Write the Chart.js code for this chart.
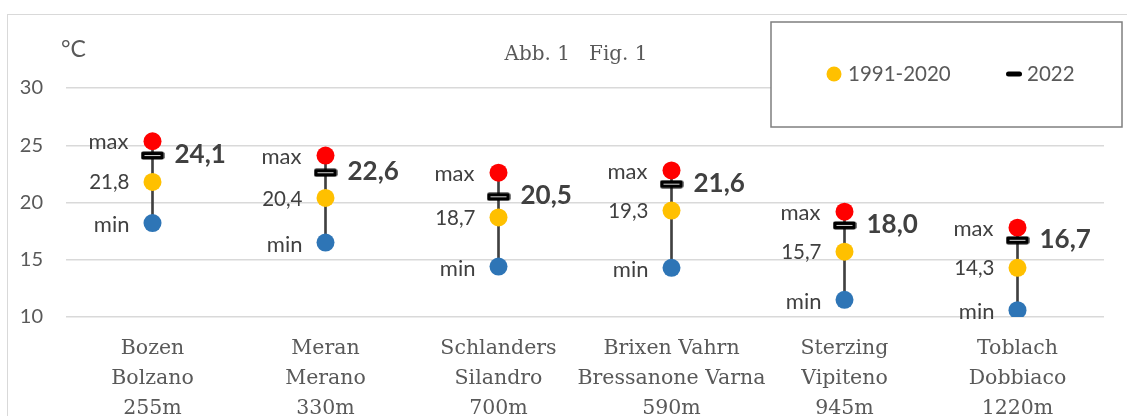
<!DOCTYPE html>
<html>
<head>
<meta charset="utf-8">
<script src="https://cdn.jsdelivr.net/npm/chart.js@4"></script>
<style>
html,body{margin:0;padding:0;background:#fff;}
#wrap{width:1127px;height:416px;position:relative;}
</style>
</head>
<body>
<div id="wrap"><canvas id="c" width="1127" height="416"></canvas></div>
<script>
const categories = [
  ["Bozen", "Bolzano", "255m"],
  ["Meran", "Merano", "330m"],
  ["Schlanders", "Silandro", "700m"],
  ["Brixen Vahrn", "Bressanone Varna", "590m"],
  ["Sterzing", "Vipiteno", "945m"],
  ["Toblach", "Dobbiaco", "1220m"]
];
const maxValues = [25.35, 24.1, 22.6, 22.8, 19.2, 17.8];
const minValues = [18.2, 16.5, 14.4, 14.3, 11.5, 10.6];
const mean1991_2020 = [21.8, 20.4, 18.7, 19.3, 15.7, 14.3];
const values2022 = [24.1, 22.6, 20.5, 21.6, 18.0, 16.7];
const yTicks = [10, 15, 20, 25, 30];
const legendLabels = ["1991-2020", "2022"];
const titleText = "Abb. 1   Fig. 1";
const unitText = "°C";

const fmt = v => v.toFixed(1).replace('.', ',');

// custom marker for 2022
const mark = document.createElement('canvas');
mark.width = 24; mark.height = 9;
(function(){
  const g = mark.getContext('2d');
  g.fillStyle = '#000';
  g.beginPath();
  if (g.roundRect) g.roundRect(0.5, 0.5, 23, 8, 2); else g.rect(0.5,0.5,23,8);
  g.fill();
  g.strokeStyle = '#d8d8d8';
  g.lineWidth = 1;
  g.beginPath();
  g.moveTo(4, 4.5); g.lineTo(20, 4.5);
  g.stroke();
})();

const decor = {
  id: 'decor',
  beforeDraw(chart) {
    const ctx = chart.ctx;
    ctx.save();
    ctx.fillStyle = '#fff';
    ctx.fillRect(0, 0, chart.width, chart.height);
    ctx.strokeStyle = '#d9d9d9';
    ctx.lineWidth = 1;
    ctx.strokeRect(7.5, 14.5, chart.width + 20, chart.height + 20);
    ctx.restore();
  },
  afterDatasetsDraw(chart) {
    const ctx = chart.ctx;
    ctx.save();
    const mMax = chart.getDatasetMeta(1).data;
    const mMean = chart.getDatasetMeta(2).data;
    const mMin = chart.getDatasetMeta(3).data;
    const m22 = chart.getDatasetMeta(4).data;
    ctx.fillStyle = '#404040';
    ctx.textAlign = 'right';
    ctx.textBaseline = 'middle';
    ctx.font = '22px Lato';
    mMax.forEach(p => ctx.fillText('max', p.x - 24, p.y + 1));
    mMin.forEach(p => ctx.fillText('min', p.x - 23, p.y + 2));
    ctx.font = '20.5px Lato';
    mMean.forEach((p, i) => ctx.fillText(fmt(mean1991_2020[i]), p.x - 23, p.y + 1));
    ctx.font = 'bold 26px Lato';
    ctx.textAlign = 'left';
    m22.forEach((p, i) => ctx.fillText(fmt(values2022[i]), p.x + 22, p.y - 1));
    ctx.restore();
  },
  afterDraw(chart) {
    const ctx = chart.ctx;
    ctx.save();
    // title
    ctx.fillStyle = '#595959';
    ctx.font = '20px "DejaVu Serif"';
    ctx.textAlign = 'center';
    ctx.textBaseline = 'alphabetic';
    ctx.fillText(titleText, 576, 60);
    // unit
    ctx.font = '23px Lato';
    ctx.textAlign = 'left';
    ctx.textBaseline = 'middle';
    ctx.fillText(unitText, 61, 50);
    // legend box
    ctx.fillStyle = '#fff';
    ctx.fillRect(771, 22, 351, 105);
    ctx.strokeStyle = '#7f7f7f';
    ctx.lineWidth = 1.5;
    ctx.strokeRect(771, 22, 351, 105);
    ctx.fillStyle = '#FFC000';
    ctx.beginPath();
    ctx.arc(834, 74, 7.5, 0, Math.PI * 2);
    ctx.fill();
    ctx.fillStyle = '#000';
    ctx.beginPath();
    if (ctx.roundRect) ctx.roundRect(1006, 71.5, 16, 5, 2.5); else ctx.rect(1006, 71.5, 16, 5);
    ctx.fill();
    ctx.fillStyle = '#595959';
    ctx.font = '20.5px Lato';
    ctx.fillText(legendLabels[0], 848, 74);
    ctx.fillText(legendLabels[1], 1027, 74);
    ctx.restore();
  }
};

new Chart(document.getElementById('c'), {
  data: {
    labels: categories,
    datasets: [
      {
        type: 'bar',
        label: 'range',
        data: minValues.map((m, i) => [m, maxValues[i]]),
        backgroundColor: '#404040',
        barThickness: 2,
        order: 10
      },
      {
        type: 'line', label: 'max', data: maxValues, showLine: false,
        pointRadius: 9, pointBorderWidth: 0, pointBackgroundColor: '#FF0000', order: 4
      },
      {
        type: 'line', label: '1991-2020', data: mean1991_2020, showLine: false,
        pointRadius: 9, pointBorderWidth: 0, pointBackgroundColor: '#FFC000', order: 3
      },
      {
        type: 'line', label: 'min', data: minValues, showLine: false,
        pointRadius: 9, pointBorderWidth: 0, pointBackgroundColor: '#2E75B6', order: 2
      },
      {
        type: 'line', label: '2022', data: values2022, showLine: false,
        pointStyle: mark, pointRadius: 9, order: 1
      }
    ]
  },
  options: {
    responsive: false,
    animation: false,
    devicePixelRatio: 1,
    events: [],
    layout: { padding: { top: 88, right: 23, left: 0, bottom: 0 } },
    plugins: { legend: { display: false }, tooltip: { enabled: false }, title: { display: false } },
    scales: {
      x: {
        type: 'category',
        offset: true,
        grid: { display: false, drawTicks: false },
        border: { display: false },
        ticks: {
          autoSkip: false, maxRotation: 0, minRotation: 0,
          color: '#595959',
          font: { family: '"DejaVu Serif"', size: 20.5, lineHeight: 1.46 },
          padding: 17
        },
        afterFit(scale) { scale.height = 99; }
      },
      y: {
        min: 10, max: 30,
        grid: { color: '#d9d9d9', lineWidth: 1.5, drawTicks: false },
        border: { display: false },
        ticks: {
          color: '#595959',
          font: { family: 'Lato', size: 20 },
          padding: 23
        },
        afterBuildTicks(scale) { scale.ticks = yTicks.map(v => ({ value: v })); },
        afterFit(scale) { scale.width = 66; }
      }
    }
  },
  plugins: [decor]
});
</script>
</body>
</html>
